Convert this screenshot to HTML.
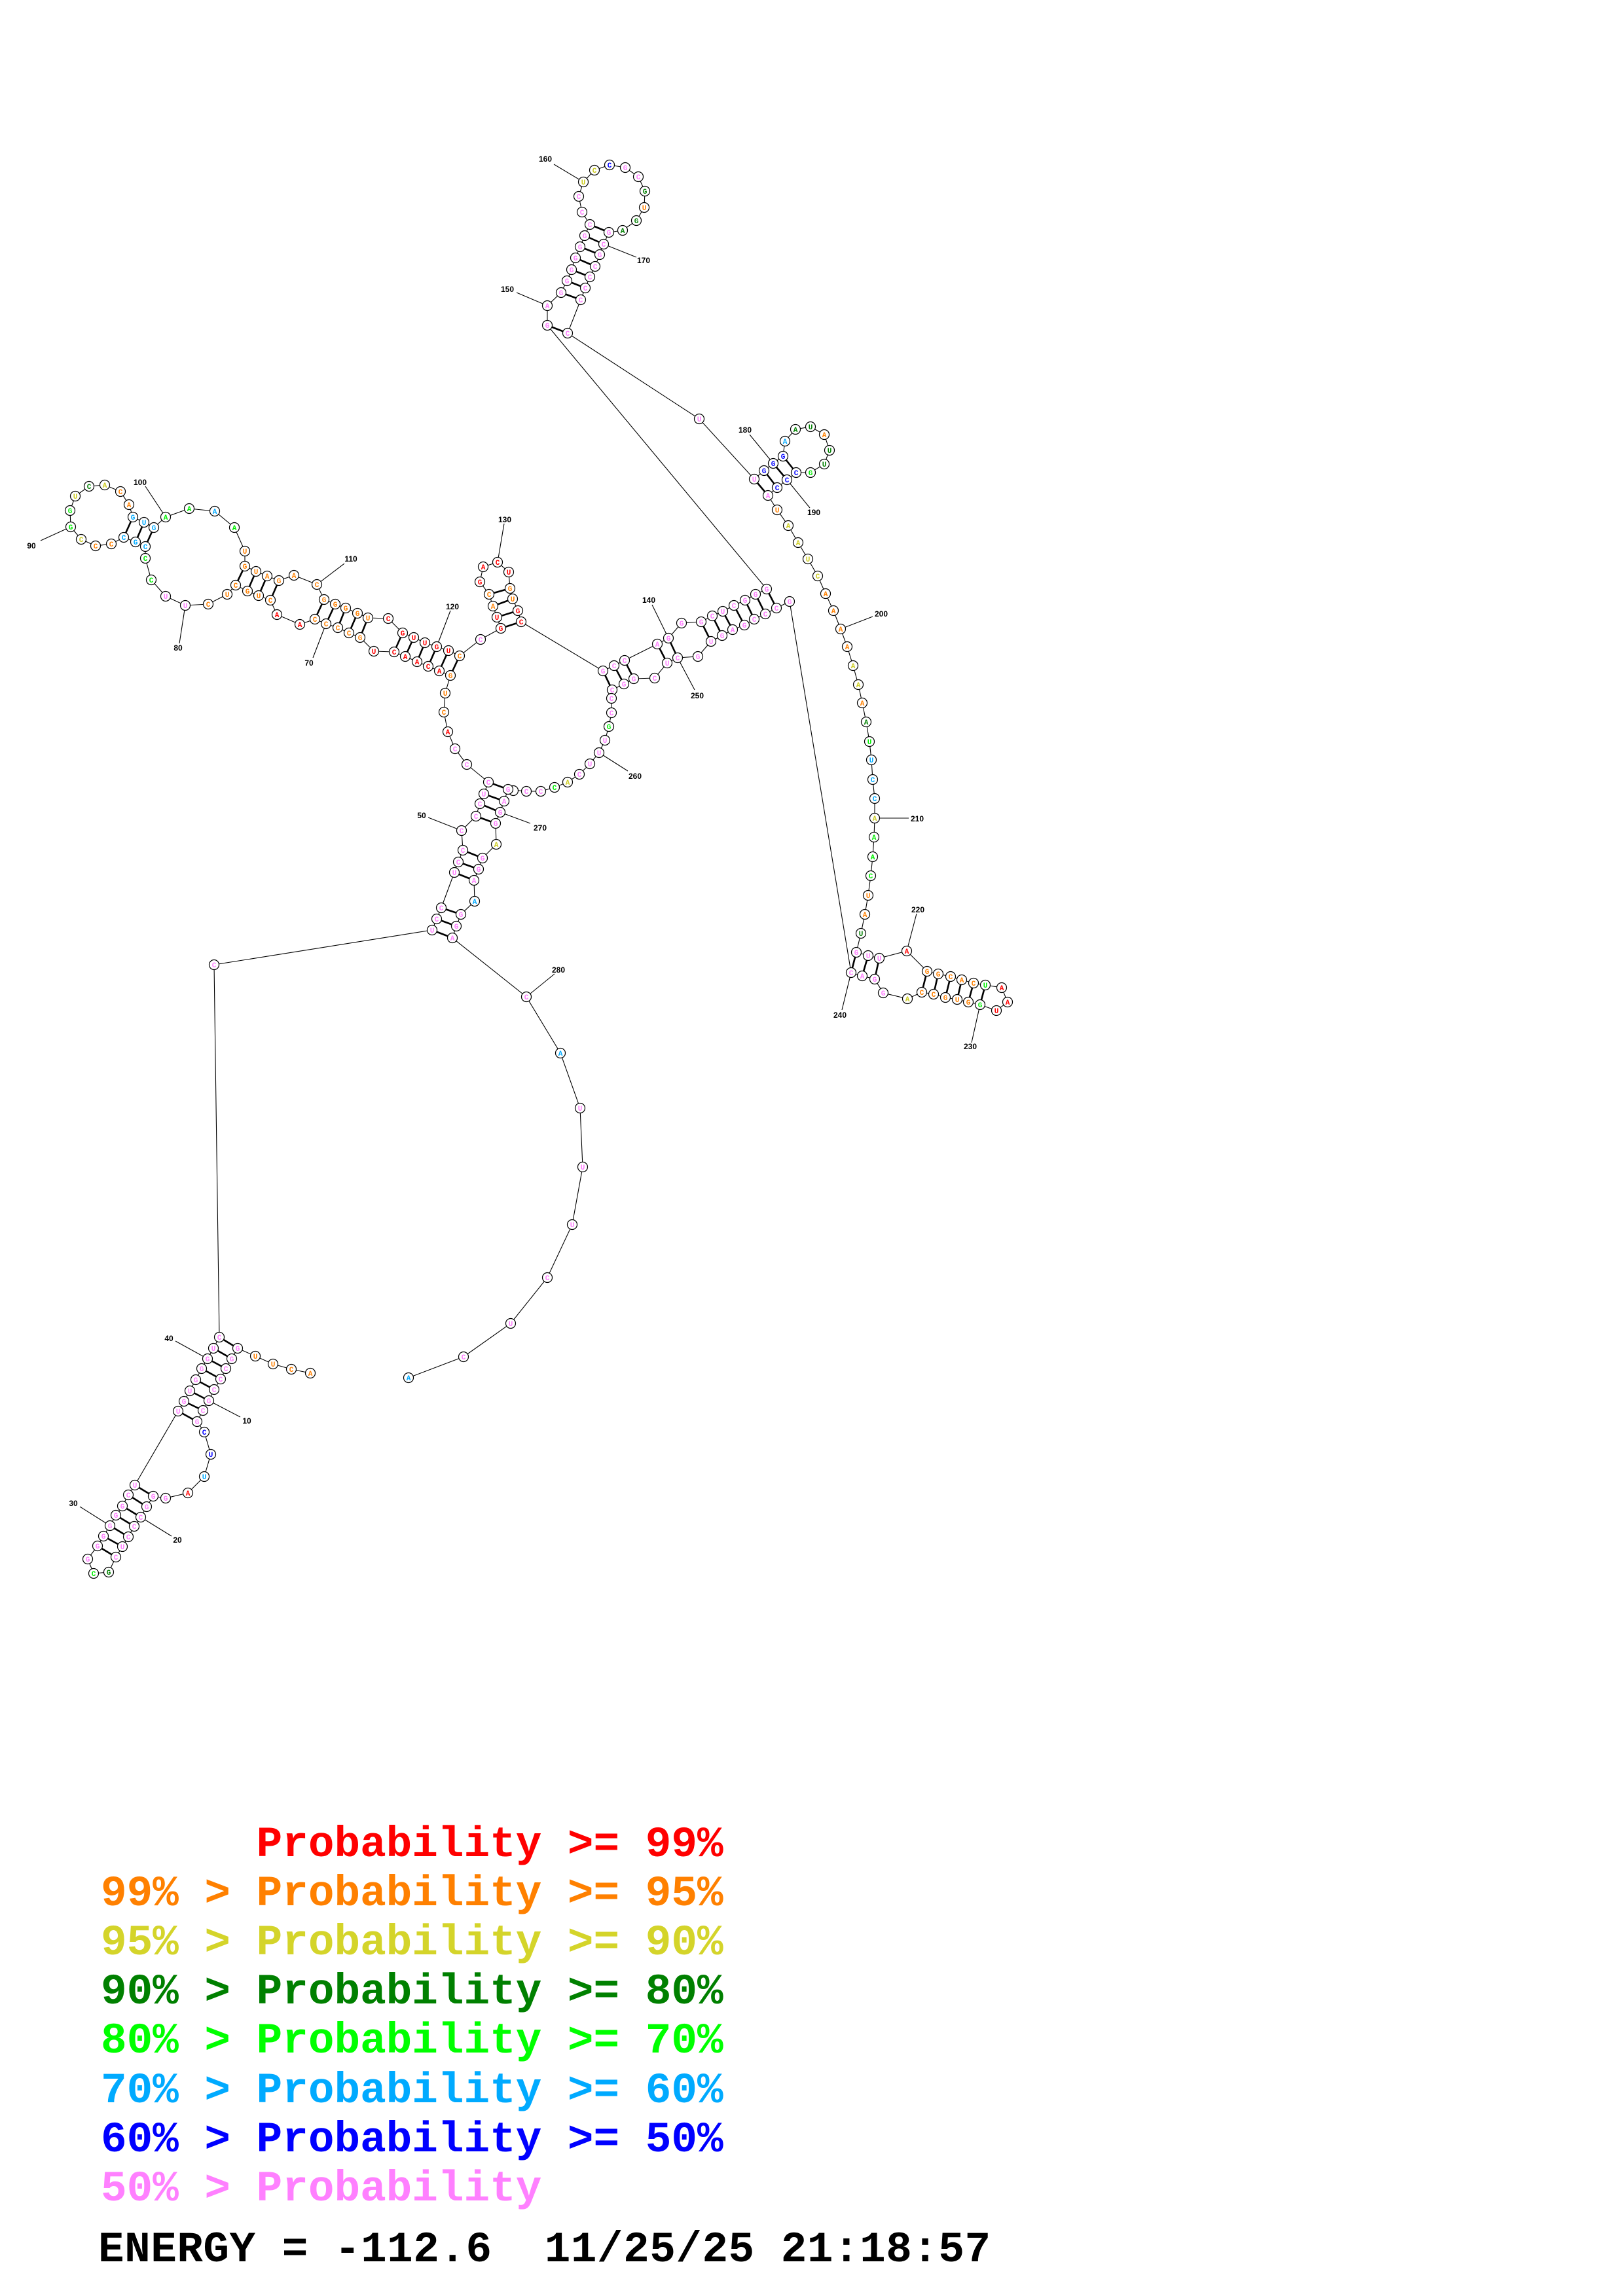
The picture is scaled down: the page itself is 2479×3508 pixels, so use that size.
<!DOCTYPE html>
<html><head><meta charset="utf-8"><style>
html,body{margin:0;padding:0;background:#fff;}
svg{display:block}
.bb{fill:none;stroke:#000;stroke-width:1.1}
.pr line{stroke:#000;stroke-width:2.6}
.ll line{stroke:#000;stroke-width:1.1}
.cc circle{fill:#fff;stroke:#000;stroke-width:1.2}
.nt text{font-family:"Liberation Mono",monospace;font-weight:bold;font-size:11px;text-anchor:middle}
.lb text{font-family:"Liberation Sans",sans-serif;font-weight:bold;font-size:12px;text-anchor:middle}
.p{fill:#ff80ff}.o{fill:#ff8000}.r{fill:#ff0000}.y{fill:#cccc22}.g{fill:#00ee00}.d{fill:#008000}.l{fill:#00aaff}.b{fill:#0000ff}
.lg{font-family:"Liberation Mono",monospace;font-weight:bold;font-size:66px;white-space:pre}
</style></head><body>
<svg width="2479" height="3508" viewBox="0 0 2479 3508" xmlns="http://www.w3.org/2000/svg">
<polyline class="bb" points="474,2098 445,2092 417,2084 390,2072 363,2060 354,2076 345,2091 337,2107 327,2123 319,2140 310,2155 301,2172 312,2188 322,2222 312,2256 287,2281 253,2289 234,2286 224,2302 215,2318 205,2332 196,2348 187,2363 177,2379 166,2402 143,2404 134,2382 149,2362 158,2347 168,2331 177,2315 187,2301 196,2284 206,2269 272,2156 281,2141 290,2125 299,2108 308,2091 317,2076 326,2060 335,2043 327,1474 660,1421 667,1404 674,1387 694,1333 700,1317 707,1299 705,1269 727,1247 733,1228 739,1213 746,1195 713,1168 695,1144 684,1118 678,1088 680,1059 688,1032 671,1025 654,1018 637,1011 619,1003 602,996 571,995 550,974 533,967 516,959 498,953 481,946 458,954 423,939 413,917 395,910 378,903 360,894 347,908 318,923 283,925 253,911 231,886 222,853 222,835 207,828 189,821 170,831 146,834 124,824 108,805 107,780 115,758 136,743 160,741 184,751 197,771 203,790 220,798 235,806 253,790 289,777 328,781 358,806 374,842 374,865 391,873 408,880 426,887 449,879 484,893 495,916 512,923 528,929 546,937 562,944 593,945 615,967 632,974 649,982 667,988 685,994 702,1002 734,977 765,960 759,943 753,926 747,908 733,889 738,866 760,859 777,874 779,899 783,915 791,933 796,950 921,1025 938,1017 954,1009 1004,984 1021,975 1041,952 1071,950 1088,941 1104,934 1121,925 1138,917 1154,908 1171,900 836,497 836,467 857,447 866,429 873,412 879,394 886,377 893,360 901,343 889,324 884,300 891,278 908,260 931,252 955,256 975,270 985,292 984,317 972,337 951,352 930,355 922,373 916,389 909,407 901,423 894,440 887,458 867,509 1068,640 1152,732 1167,719 1181,708 1196,697 1199,674 1215,656 1238,652 1259,664 1267,688 1259,709 1238,722 1216,722 1202,733 1187,745 1173,757 1187,779 1204,803 1219,829 1234,854 1249,880 1261,907 1273,933 1284,961 1294,988 1303,1017 1311,1046 1317,1074 1323,1103 1328,1133 1331,1161 1333,1191 1336,1220 1336,1250 1335,1279 1333,1309 1330,1338 1326,1368 1321,1397 1315,1426 1308,1455 1326,1460 1343,1464 1385,1453 1416,1484 1433,1488 1452,1492 1469,1497 1487,1502 1505,1505 1530,1509 1539,1531 1522,1544 1497,1535 1479,1531 1462,1527 1444,1524 1426,1519 1408,1516 1386,1526 1349,1517 1336,1496 1317,1491 1300,1486 1206,919 1186,929 1169,938 1152,946 1137,955 1119,962 1103,971 1086,980 1066,1003 1035,1005 1019,1013 1000,1036 968,1037 953,1045 935,1054 934,1067 934,1089 930,1110 924,1131 915,1150 901,1167 885,1183 867,1195 847,1203 826,1209 804,1209 784,1207 776,1206 770,1224 764,1241 757,1258 758,1290 737,1311 731,1328 724,1345 725,1377 704,1397 697,1415 691,1433 804,1523 856,1609 886,1693 890,1783 874,1871 836,1952 780,2022 708,2073 624,2105"/>
<g class="pr">
<line x1="363" y1="2060" x2="335" y2="2043"/><line x1="354" y1="2076" x2="326" y2="2060"/><line x1="345" y1="2091" x2="317" y2="2076"/><line x1="337" y1="2107" x2="308" y2="2091"/><line x1="327" y1="2123" x2="299" y2="2108"/><line x1="319" y1="2140" x2="290" y2="2125"/><line x1="310" y1="2155" x2="281" y2="2141"/><line x1="301" y1="2172" x2="272" y2="2156"/>
<line x1="234" y1="2286" x2="206" y2="2269"/><line x1="224" y1="2302" x2="196" y2="2284"/><line x1="215" y1="2318" x2="187" y2="2301"/><line x1="205" y1="2332" x2="177" y2="2315"/><line x1="196" y1="2348" x2="168" y2="2331"/><line x1="187" y1="2363" x2="158" y2="2347"/><line x1="177" y1="2379" x2="149" y2="2362"/>
<line x1="660" y1="1421" x2="691" y2="1433"/><line x1="667" y1="1404" x2="697" y2="1415"/><line x1="674" y1="1387" x2="704" y2="1397"/><line x1="694" y1="1333" x2="724" y2="1345"/><line x1="700" y1="1317" x2="731" y2="1328"/><line x1="707" y1="1299" x2="737" y2="1311"/><line x1="727" y1="1247" x2="757" y2="1258"/><line x1="733" y1="1228" x2="764" y2="1241"/><line x1="739" y1="1213" x2="770" y2="1224"/><line x1="746" y1="1195" x2="776" y2="1206"/>
<line x1="688" y1="1032" x2="702" y2="1002"/><line x1="671" y1="1025" x2="685" y2="994"/><line x1="654" y1="1018" x2="667" y2="988"/><line x1="637" y1="1011" x2="649" y2="982"/><line x1="619" y1="1003" x2="632" y2="974"/><line x1="602" y1="996" x2="615" y2="967"/>
<line x1="550" y1="974" x2="562" y2="944"/><line x1="533" y1="967" x2="546" y2="937"/><line x1="516" y1="959" x2="528" y2="929"/><line x1="498" y1="953" x2="512" y2="923"/><line x1="481" y1="946" x2="495" y2="916"/>
<line x1="413" y1="917" x2="426" y2="887"/><line x1="395" y1="910" x2="408" y2="880"/><line x1="378" y1="903" x2="391" y2="873"/><line x1="360" y1="894" x2="374" y2="865"/>
<line x1="222" y1="835" x2="235" y2="806"/><line x1="207" y1="828" x2="220" y2="798"/><line x1="189" y1="821" x2="203" y2="790"/>
<line x1="765" y1="960" x2="796" y2="950"/><line x1="759" y1="943" x2="791" y2="933"/><line x1="753" y1="926" x2="783" y2="915"/><line x1="747" y1="908" x2="779" y2="899"/>
<line x1="921" y1="1025" x2="935" y2="1054"/><line x1="938" y1="1017" x2="953" y2="1045"/><line x1="954" y1="1009" x2="968" y2="1037"/><line x1="1004" y1="984" x2="1019" y2="1013"/><line x1="1021" y1="975" x2="1035" y2="1005"/><line x1="1071" y1="950" x2="1086" y2="980"/><line x1="1088" y1="941" x2="1103" y2="971"/><line x1="1104" y1="934" x2="1119" y2="962"/><line x1="1121" y1="925" x2="1137" y2="955"/><line x1="1138" y1="917" x2="1152" y2="946"/><line x1="1154" y1="908" x2="1169" y2="938"/><line x1="1171" y1="900" x2="1186" y2="929"/>
<line x1="836" y1="497" x2="867" y2="509"/><line x1="857" y1="447" x2="887" y2="458"/><line x1="866" y1="429" x2="894" y2="440"/><line x1="873" y1="412" x2="901" y2="423"/><line x1="879" y1="394" x2="909" y2="407"/><line x1="886" y1="377" x2="916" y2="389"/><line x1="893" y1="360" x2="922" y2="373"/><line x1="901" y1="343" x2="930" y2="355"/>
<line x1="1152" y1="732" x2="1173" y2="757"/><line x1="1167" y1="719" x2="1187" y2="745"/><line x1="1181" y1="708" x2="1202" y2="733"/><line x1="1196" y1="697" x2="1216" y2="722"/>
<line x1="1308" y1="1455" x2="1300" y2="1486"/><line x1="1326" y1="1460" x2="1317" y2="1491"/><line x1="1343" y1="1464" x2="1336" y2="1496"/><line x1="1416" y1="1484" x2="1408" y2="1516"/><line x1="1433" y1="1488" x2="1426" y2="1519"/><line x1="1452" y1="1492" x2="1444" y2="1524"/><line x1="1469" y1="1497" x2="1462" y2="1527"/><line x1="1487" y1="1502" x2="1479" y2="1531"/><line x1="1505" y1="1505" x2="1497" y2="1535"/>
</g>
<g class="ll">
<line x1="319" y1="2140" x2="367" y2="2165"/><line x1="215" y1="2318" x2="262" y2="2347"/><line x1="168" y1="2331" x2="122" y2="2302"/><line x1="317" y1="2076" x2="268" y2="2049"/><line x1="705" y1="1269" x2="654" y2="1249"/><line x1="498" y1="953" x2="478" y2="1005"/><line x1="283" y1="925" x2="274" y2="983"/><line x1="108" y1="805" x2="62" y2="826"/><line x1="253" y1="790" x2="222" y2="743"/><line x1="484" y1="893" x2="526" y2="861"/><line x1="667" y1="988" x2="688" y2="933"/><line x1="760" y1="859" x2="770" y2="800"/><line x1="1021" y1="975" x2="996" y2="924"/><line x1="836" y1="467" x2="789" y2="447"/><line x1="891" y1="278" x2="846" y2="251"/><line x1="922" y1="373" x2="972" y2="393"/><line x1="1181" y1="708" x2="1145" y2="664"/><line x1="1202" y1="733" x2="1237" y2="776"/><line x1="1284" y1="961" x2="1333" y2="942"/><line x1="1336" y1="1250" x2="1388" y2="1250"/><line x1="1385" y1="1453" x2="1400" y2="1396"/><line x1="1497" y1="1535" x2="1484" y2="1593"/><line x1="1300" y1="1486" x2="1286" y2="1543"/><line x1="1035" y1="1005" x2="1061" y2="1054"/><line x1="915" y1="1150" x2="959" y2="1178"/><line x1="764" y1="1241" x2="810" y2="1258"/><line x1="804" y1="1523" x2="847" y2="1488"/>
</g>
<g class="lb">
<text x="377" y="2175">10</text><text x="271" y="2357">20</text><text x="112" y="2301">30</text><text x="258" y="2049">40</text><text x="644" y="1250">50</text><text x="472" y="1017">70</text><text x="272" y="994">80</text><text x="48" y="838">90</text><text x="214" y="741">100</text><text x="536" y="858">110</text><text x="691" y="931">120</text><text x="771" y="798">130</text><text x="991" y="921">140</text><text x="775" y="446">150</text><text x="833" y="247">160</text><text x="983" y="402">170</text><text x="1138" y="661">180</text><text x="1243" y="787">190</text><text x="1346" y="942">200</text><text x="1401" y="1255">210</text><text x="1402" y="1394">220</text><text x="1482" y="1603">230</text><text x="1283" y="1555">240</text><text x="1065" y="1067">250</text><text x="970" y="1190">260</text><text x="825" y="1269">270</text><text x="853" y="1486">280</text>
</g>
<g class="cc">
<circle cx="474" cy="2098" r="7.5"/><circle cx="445" cy="2092" r="7.5"/><circle cx="417" cy="2084" r="7.5"/><circle cx="390" cy="2072" r="7.5"/><circle cx="363" cy="2060" r="7.5"/><circle cx="354" cy="2076" r="7.5"/><circle cx="345" cy="2091" r="7.5"/><circle cx="337" cy="2107" r="7.5"/><circle cx="327" cy="2123" r="7.5"/><circle cx="319" cy="2140" r="7.5"/><circle cx="310" cy="2155" r="7.5"/><circle cx="301" cy="2172" r="7.5"/><circle cx="312" cy="2188" r="7.5"/><circle cx="322" cy="2222" r="7.5"/><circle cx="312" cy="2256" r="7.5"/><circle cx="287" cy="2281" r="7.5"/><circle cx="253" cy="2289" r="7.5"/><circle cx="234" cy="2286" r="7.5"/><circle cx="224" cy="2302" r="7.5"/><circle cx="215" cy="2318" r="7.5"/><circle cx="205" cy="2332" r="7.5"/><circle cx="196" cy="2348" r="7.5"/><circle cx="187" cy="2363" r="7.5"/><circle cx="177" cy="2379" r="7.5"/><circle cx="166" cy="2402" r="7.5"/><circle cx="143" cy="2404" r="7.5"/><circle cx="134" cy="2382" r="7.5"/><circle cx="149" cy="2362" r="7.5"/><circle cx="158" cy="2347" r="7.5"/><circle cx="168" cy="2331" r="7.5"/><circle cx="177" cy="2315" r="7.5"/><circle cx="187" cy="2301" r="7.5"/><circle cx="196" cy="2284" r="7.5"/><circle cx="206" cy="2269" r="7.5"/><circle cx="272" cy="2156" r="7.5"/><circle cx="281" cy="2141" r="7.5"/><circle cx="290" cy="2125" r="7.5"/><circle cx="299" cy="2108" r="7.5"/><circle cx="308" cy="2091" r="7.5"/><circle cx="317" cy="2076" r="7.5"/><circle cx="326" cy="2060" r="7.5"/><circle cx="335" cy="2043" r="7.5"/><circle cx="327" cy="1474" r="7.5"/><circle cx="660" cy="1421" r="7.5"/><circle cx="667" cy="1404" r="7.5"/><circle cx="674" cy="1387" r="7.5"/><circle cx="694" cy="1333" r="7.5"/><circle cx="700" cy="1317" r="7.5"/><circle cx="707" cy="1299" r="7.5"/><circle cx="705" cy="1269" r="7.5"/><circle cx="727" cy="1247" r="7.5"/><circle cx="733" cy="1228" r="7.5"/><circle cx="739" cy="1213" r="7.5"/><circle cx="746" cy="1195" r="7.5"/><circle cx="713" cy="1168" r="7.5"/><circle cx="695" cy="1144" r="7.5"/><circle cx="684" cy="1118" r="7.5"/><circle cx="678" cy="1088" r="7.5"/><circle cx="680" cy="1059" r="7.5"/><circle cx="688" cy="1032" r="7.5"/><circle cx="671" cy="1025" r="7.5"/><circle cx="654" cy="1018" r="7.5"/><circle cx="637" cy="1011" r="7.5"/><circle cx="619" cy="1003" r="7.5"/><circle cx="602" cy="996" r="7.5"/><circle cx="571" cy="995" r="7.5"/><circle cx="550" cy="974" r="7.5"/><circle cx="533" cy="967" r="7.5"/><circle cx="516" cy="959" r="7.5"/><circle cx="498" cy="953" r="7.5"/><circle cx="481" cy="946" r="7.5"/><circle cx="458" cy="954" r="7.5"/><circle cx="423" cy="939" r="7.5"/><circle cx="413" cy="917" r="7.5"/><circle cx="395" cy="910" r="7.5"/><circle cx="378" cy="903" r="7.5"/><circle cx="360" cy="894" r="7.5"/><circle cx="347" cy="908" r="7.5"/><circle cx="318" cy="923" r="7.5"/><circle cx="283" cy="925" r="7.5"/><circle cx="253" cy="911" r="7.5"/><circle cx="231" cy="886" r="7.5"/><circle cx="222" cy="853" r="7.5"/><circle cx="222" cy="835" r="7.5"/><circle cx="207" cy="828" r="7.5"/><circle cx="189" cy="821" r="7.5"/><circle cx="170" cy="831" r="7.5"/><circle cx="146" cy="834" r="7.5"/><circle cx="124" cy="824" r="7.5"/><circle cx="108" cy="805" r="7.5"/><circle cx="107" cy="780" r="7.5"/><circle cx="115" cy="758" r="7.5"/><circle cx="136" cy="743" r="7.5"/><circle cx="160" cy="741" r="7.5"/><circle cx="184" cy="751" r="7.5"/><circle cx="197" cy="771" r="7.5"/><circle cx="203" cy="790" r="7.5"/><circle cx="220" cy="798" r="7.5"/><circle cx="235" cy="806" r="7.5"/><circle cx="253" cy="790" r="7.5"/><circle cx="289" cy="777" r="7.5"/><circle cx="328" cy="781" r="7.5"/><circle cx="358" cy="806" r="7.5"/><circle cx="374" cy="842" r="7.5"/><circle cx="374" cy="865" r="7.5"/><circle cx="391" cy="873" r="7.5"/><circle cx="408" cy="880" r="7.5"/><circle cx="426" cy="887" r="7.5"/><circle cx="449" cy="879" r="7.5"/><circle cx="484" cy="893" r="7.5"/><circle cx="495" cy="916" r="7.5"/><circle cx="512" cy="923" r="7.5"/><circle cx="528" cy="929" r="7.5"/><circle cx="546" cy="937" r="7.5"/><circle cx="562" cy="944" r="7.5"/><circle cx="593" cy="945" r="7.5"/><circle cx="615" cy="967" r="7.5"/><circle cx="632" cy="974" r="7.5"/><circle cx="649" cy="982" r="7.5"/><circle cx="667" cy="988" r="7.5"/><circle cx="685" cy="994" r="7.5"/><circle cx="702" cy="1002" r="7.5"/><circle cx="734" cy="977" r="7.5"/><circle cx="765" cy="960" r="7.5"/><circle cx="759" cy="943" r="7.5"/><circle cx="753" cy="926" r="7.5"/><circle cx="747" cy="908" r="7.5"/><circle cx="733" cy="889" r="7.5"/><circle cx="738" cy="866" r="7.5"/><circle cx="760" cy="859" r="7.5"/><circle cx="777" cy="874" r="7.5"/><circle cx="779" cy="899" r="7.5"/><circle cx="783" cy="915" r="7.5"/><circle cx="791" cy="933" r="7.5"/><circle cx="796" cy="950" r="7.5"/><circle cx="921" cy="1025" r="7.5"/><circle cx="938" cy="1017" r="7.5"/><circle cx="954" cy="1009" r="7.5"/><circle cx="1004" cy="984" r="7.5"/><circle cx="1021" cy="975" r="7.5"/><circle cx="1041" cy="952" r="7.5"/><circle cx="1071" cy="950" r="7.5"/><circle cx="1088" cy="941" r="7.5"/><circle cx="1104" cy="934" r="7.5"/><circle cx="1121" cy="925" r="7.5"/><circle cx="1138" cy="917" r="7.5"/><circle cx="1154" cy="908" r="7.5"/><circle cx="1171" cy="900" r="7.5"/><circle cx="836" cy="497" r="7.5"/><circle cx="836" cy="467" r="7.5"/><circle cx="857" cy="447" r="7.5"/><circle cx="866" cy="429" r="7.5"/><circle cx="873" cy="412" r="7.5"/><circle cx="879" cy="394" r="7.5"/><circle cx="886" cy="377" r="7.5"/><circle cx="893" cy="360" r="7.5"/><circle cx="901" cy="343" r="7.5"/><circle cx="889" cy="324" r="7.5"/><circle cx="884" cy="300" r="7.5"/><circle cx="891" cy="278" r="7.5"/><circle cx="908" cy="260" r="7.5"/><circle cx="931" cy="252" r="7.5"/><circle cx="955" cy="256" r="7.5"/><circle cx="975" cy="270" r="7.5"/><circle cx="985" cy="292" r="7.5"/><circle cx="984" cy="317" r="7.5"/><circle cx="972" cy="337" r="7.5"/><circle cx="951" cy="352" r="7.5"/><circle cx="930" cy="355" r="7.5"/><circle cx="922" cy="373" r="7.5"/><circle cx="916" cy="389" r="7.5"/><circle cx="909" cy="407" r="7.5"/><circle cx="901" cy="423" r="7.5"/><circle cx="894" cy="440" r="7.5"/><circle cx="887" cy="458" r="7.5"/><circle cx="867" cy="509" r="7.5"/><circle cx="1068" cy="640" r="7.5"/><circle cx="1152" cy="732" r="7.5"/><circle cx="1167" cy="719" r="7.5"/><circle cx="1181" cy="708" r="7.5"/><circle cx="1196" cy="697" r="7.5"/><circle cx="1199" cy="674" r="7.5"/><circle cx="1215" cy="656" r="7.5"/><circle cx="1238" cy="652" r="7.5"/><circle cx="1259" cy="664" r="7.5"/><circle cx="1267" cy="688" r="7.5"/><circle cx="1259" cy="709" r="7.5"/><circle cx="1238" cy="722" r="7.5"/><circle cx="1216" cy="722" r="7.5"/><circle cx="1202" cy="733" r="7.5"/><circle cx="1187" cy="745" r="7.5"/><circle cx="1173" cy="757" r="7.5"/><circle cx="1187" cy="779" r="7.5"/><circle cx="1204" cy="803" r="7.5"/><circle cx="1219" cy="829" r="7.5"/><circle cx="1234" cy="854" r="7.5"/><circle cx="1249" cy="880" r="7.5"/><circle cx="1261" cy="907" r="7.5"/><circle cx="1273" cy="933" r="7.5"/><circle cx="1284" cy="961" r="7.5"/><circle cx="1294" cy="988" r="7.5"/><circle cx="1303" cy="1017" r="7.5"/><circle cx="1311" cy="1046" r="7.5"/><circle cx="1317" cy="1074" r="7.5"/><circle cx="1323" cy="1103" r="7.5"/><circle cx="1328" cy="1133" r="7.5"/><circle cx="1331" cy="1161" r="7.5"/><circle cx="1333" cy="1191" r="7.5"/><circle cx="1336" cy="1220" r="7.5"/><circle cx="1336" cy="1250" r="7.5"/><circle cx="1335" cy="1279" r="7.5"/><circle cx="1333" cy="1309" r="7.5"/><circle cx="1330" cy="1338" r="7.5"/><circle cx="1326" cy="1368" r="7.5"/><circle cx="1321" cy="1397" r="7.5"/><circle cx="1315" cy="1426" r="7.5"/><circle cx="1308" cy="1455" r="7.5"/><circle cx="1326" cy="1460" r="7.5"/><circle cx="1343" cy="1464" r="7.5"/><circle cx="1385" cy="1453" r="7.5"/><circle cx="1416" cy="1484" r="7.5"/><circle cx="1433" cy="1488" r="7.5"/><circle cx="1452" cy="1492" r="7.5"/><circle cx="1469" cy="1497" r="7.5"/><circle cx="1487" cy="1502" r="7.5"/><circle cx="1505" cy="1505" r="7.5"/><circle cx="1530" cy="1509" r="7.5"/><circle cx="1539" cy="1531" r="7.5"/><circle cx="1522" cy="1544" r="7.5"/><circle cx="1497" cy="1535" r="7.5"/><circle cx="1479" cy="1531" r="7.5"/><circle cx="1462" cy="1527" r="7.5"/><circle cx="1444" cy="1524" r="7.5"/><circle cx="1426" cy="1519" r="7.5"/><circle cx="1408" cy="1516" r="7.5"/><circle cx="1386" cy="1526" r="7.5"/><circle cx="1349" cy="1517" r="7.5"/><circle cx="1336" cy="1496" r="7.5"/><circle cx="1317" cy="1491" r="7.5"/><circle cx="1300" cy="1486" r="7.5"/><circle cx="1206" cy="919" r="7.5"/><circle cx="1186" cy="929" r="7.5"/><circle cx="1169" cy="938" r="7.5"/><circle cx="1152" cy="946" r="7.5"/><circle cx="1137" cy="955" r="7.5"/><circle cx="1119" cy="962" r="7.5"/><circle cx="1103" cy="971" r="7.5"/><circle cx="1086" cy="980" r="7.5"/><circle cx="1066" cy="1003" r="7.5"/><circle cx="1035" cy="1005" r="7.5"/><circle cx="1019" cy="1013" r="7.5"/><circle cx="1000" cy="1036" r="7.5"/><circle cx="968" cy="1037" r="7.5"/><circle cx="953" cy="1045" r="7.5"/><circle cx="935" cy="1054" r="7.5"/><circle cx="934" cy="1067" r="7.5"/><circle cx="934" cy="1089" r="7.5"/><circle cx="930" cy="1110" r="7.5"/><circle cx="924" cy="1131" r="7.5"/><circle cx="915" cy="1150" r="7.5"/><circle cx="901" cy="1167" r="7.5"/><circle cx="885" cy="1183" r="7.5"/><circle cx="867" cy="1195" r="7.5"/><circle cx="847" cy="1203" r="7.5"/><circle cx="826" cy="1209" r="7.5"/><circle cx="804" cy="1209" r="7.5"/><circle cx="784" cy="1208" r="7.5"/><circle cx="776" cy="1206" r="7.5"/><circle cx="770" cy="1224" r="7.5"/><circle cx="764" cy="1241" r="7.5"/><circle cx="757" cy="1258" r="7.5"/><circle cx="758" cy="1290" r="7.5"/><circle cx="737" cy="1311" r="7.5"/><circle cx="731" cy="1328" r="7.5"/><circle cx="724" cy="1345" r="7.5"/><circle cx="725" cy="1377" r="7.5"/><circle cx="704" cy="1397" r="7.5"/><circle cx="697" cy="1415" r="7.5"/><circle cx="691" cy="1433" r="7.5"/><circle cx="804" cy="1523" r="7.5"/><circle cx="856" cy="1609" r="7.5"/><circle cx="886" cy="1693" r="7.5"/><circle cx="890" cy="1783" r="7.5"/><circle cx="874" cy="1871" r="7.5"/><circle cx="836" cy="1952" r="7.5"/><circle cx="780" cy="2022" r="7.5"/><circle cx="708" cy="2073" r="7.5"/><circle cx="624" cy="2105" r="7.5"/>
</g>
<g class="nt">
<text x="474" y="2102" class="o">A</text><text x="445" y="2096" class="o">C</text><text x="417" y="2088" class="o">U</text><text x="390" y="2076" class="o">U</text><text x="363" y="2064" class="p">G</text><text x="354" y="2080" class="p">G</text><text x="345" y="2095" class="p">C</text><text x="337" y="2111" class="p">C</text><text x="327" y="2127" class="p">C</text><text x="319" y="2144" class="p">G</text><text x="310" y="2159" class="p">C</text><text x="301" y="2176" class="p">G</text><text x="312" y="2192" class="b">C</text><text x="322" y="2226" class="b">U</text><text x="312" y="2260" class="l">U</text><text x="287" y="2285" class="r">A</text><text x="253" y="2293" class="p">G</text><text x="234" y="2290" class="p">G</text><text x="224" y="2306" class="p">G</text><text x="215" y="2322" class="p">C</text><text x="205" y="2336" class="p">C</text><text x="196" y="2352" class="p">C</text><text x="187" y="2367" class="p">U</text><text x="177" y="2383" class="p">C</text><text x="166" y="2406" class="d">G</text><text x="143" y="2408" class="g">C</text><text x="134" y="2386" class="p">G</text><text x="149" y="2366" class="p">G</text><text x="158" y="2351" class="p">G</text><text x="168" y="2335" class="p">G</text><text x="177" y="2319" class="p">G</text><text x="187" y="2305" class="p">G</text><text x="196" y="2288" class="p">C</text><text x="206" y="2273" class="p">U</text><text x="272" y="2160" class="p">U</text><text x="281" y="2145" class="p">G</text><text x="290" y="2129" class="p">U</text><text x="299" y="2112" class="p">G</text><text x="308" y="2095" class="p">G</text><text x="317" y="2080" class="p">G</text><text x="326" y="2064" class="p">U</text><text x="335" y="2047" class="p">C</text><text x="327" y="1478" class="p">C</text><text x="660" y="1425" class="p">U</text><text x="667" y="1408" class="p">C</text><text x="674" y="1391" class="p">C</text><text x="694" y="1337" class="p">U</text><text x="700" y="1321" class="p">C</text><text x="707" y="1303" class="p">C</text><text x="705" y="1273" class="p">C</text><text x="727" y="1251" class="p">C</text><text x="733" y="1232" class="p">C</text><text x="739" y="1217" class="p">U</text><text x="746" y="1199" class="p">C</text><text x="713" y="1172" class="p">C</text><text x="695" y="1148" class="p">C</text><text x="684" y="1122" class="r">A</text><text x="678" y="1092" class="o">C</text><text x="680" y="1063" class="o">U</text><text x="688" y="1036" class="o">G</text><text x="671" y="1029" class="r">A</text><text x="654" y="1022" class="r">C</text><text x="637" y="1015" class="r">A</text><text x="619" y="1007" class="r">A</text><text x="602" y="1000" class="r">C</text><text x="571" y="999" class="r">U</text><text x="550" y="978" class="o">G</text><text x="533" y="971" class="o">C</text><text x="516" y="963" class="o">C</text><text x="498" y="957" class="o">C</text><text x="481" y="950" class="o">C</text><text x="458" y="958" class="r">A</text><text x="423" y="943" class="r">A</text><text x="413" y="921" class="o">C</text><text x="395" y="914" class="o">U</text><text x="378" y="907" class="o">G</text><text x="360" y="898" class="o">C</text><text x="347" y="912" class="o">U</text><text x="318" y="927" class="o">C</text><text x="283" y="929" class="p">U</text><text x="253" y="915" class="p">U</text><text x="231" y="890" class="g">C</text><text x="222" y="857" class="g">C</text><text x="222" y="839" class="l">C</text><text x="207" y="832" class="l">G</text><text x="189" y="825" class="l">C</text><text x="170" y="835" class="o">C</text><text x="146" y="838" class="o">C</text><text x="124" y="828" class="y">C</text><text x="108" y="809" class="g">G</text><text x="107" y="784" class="g">G</text><text x="115" y="762" class="y">U</text><text x="136" y="747" class="d">C</text><text x="160" y="745" class="y">A</text><text x="184" y="755" class="o">C</text><text x="197" y="775" class="o">A</text><text x="203" y="794" class="l">G</text><text x="220" y="802" class="l">U</text><text x="235" y="810" class="l">G</text><text x="253" y="794" class="g">A</text><text x="289" y="781" class="g">A</text><text x="328" y="785" class="l">A</text><text x="358" y="810" class="g">A</text><text x="374" y="846" class="o">U</text><text x="374" y="869" class="o">G</text><text x="391" y="877" class="o">U</text><text x="408" y="884" class="o">A</text><text x="426" y="891" class="o">G</text><text x="449" y="883" class="o">A</text><text x="484" y="897" class="o">C</text><text x="495" y="920" class="o">G</text><text x="512" y="927" class="o">G</text><text x="528" y="933" class="o">G</text><text x="546" y="941" class="o">G</text><text x="562" y="948" class="o">U</text><text x="593" y="949" class="r">C</text><text x="615" y="971" class="r">G</text><text x="632" y="978" class="r">U</text><text x="649" y="986" class="r">U</text><text x="667" y="992" class="r">G</text><text x="685" y="998" class="r">U</text><text x="702" y="1006" class="o">C</text><text x="734" y="981" class="p">C</text><text x="765" y="964" class="r">G</text><text x="759" y="947" class="r">U</text><text x="753" y="930" class="o">A</text><text x="747" y="912" class="o">C</text><text x="733" y="893" class="r">G</text><text x="738" y="870" class="r">A</text><text x="760" y="863" class="r">C</text><text x="777" y="878" class="r">U</text><text x="779" y="903" class="o">G</text><text x="783" y="919" class="o">U</text><text x="791" y="937" class="r">G</text><text x="796" y="954" class="r">C</text><text x="921" y="1029" class="p">G</text><text x="938" y="1021" class="p">C</text><text x="954" y="1013" class="p">C</text><text x="1004" y="988" class="p">A</text><text x="1021" y="979" class="p">G</text><text x="1041" y="956" class="p">G</text><text x="1071" y="954" class="p">G</text><text x="1088" y="945" class="p">C</text><text x="1104" y="938" class="p">U</text><text x="1121" y="929" class="p">C</text><text x="1138" y="921" class="p">G</text><text x="1154" y="912" class="p">G</text><text x="1171" y="904" class="p">G</text><text x="836" y="501" class="p">G</text><text x="836" y="471" class="p">A</text><text x="857" y="451" class="p">G</text><text x="866" y="433" class="p">G</text><text x="873" y="416" class="p">G</text><text x="879" y="398" class="p">G</text><text x="886" y="381" class="p">G</text><text x="893" y="364" class="p">G</text><text x="901" y="347" class="p">C</text><text x="889" y="328" class="p">C</text><text x="884" y="304" class="p">C</text><text x="891" y="282" class="y">U</text><text x="908" y="264" class="y">C</text><text x="931" y="256" class="b">C</text><text x="955" y="260" class="p">G</text><text x="975" y="274" class="p">C</text><text x="985" y="296" class="d">G</text><text x="984" y="321" class="o">U</text><text x="972" y="341" class="d">G</text><text x="951" y="356" class="d">A</text><text x="930" y="359" class="p">G</text><text x="922" y="377" class="p">C</text><text x="916" y="393" class="p">G</text><text x="909" y="411" class="p">C</text><text x="901" y="427" class="p">C</text><text x="894" y="444" class="p">C</text><text x="887" y="462" class="p">C</text><text x="867" y="513" class="p">C</text><text x="1068" y="644" class="p">U</text><text x="1152" y="736" class="p">U</text><text x="1167" y="723" class="b">G</text><text x="1181" y="712" class="b">G</text><text x="1196" y="701" class="b">G</text><text x="1199" y="678" class="l">A</text><text x="1215" y="660" class="d">A</text><text x="1238" y="656" class="d">U</text><text x="1259" y="668" class="o">A</text><text x="1267" y="692" class="d">U</text><text x="1259" y="713" class="d">U</text><text x="1238" y="726" class="g">G</text><text x="1216" y="726" class="b">C</text><text x="1202" y="737" class="b">C</text><text x="1187" y="749" class="b">C</text><text x="1173" y="761" class="p">A</text><text x="1187" y="783" class="o">U</text><text x="1204" y="807" class="y">A</text><text x="1219" y="833" class="y">A</text><text x="1234" y="858" class="y">U</text><text x="1249" y="884" class="y">C</text><text x="1261" y="911" class="o">A</text><text x="1273" y="937" class="o">A</text><text x="1284" y="965" class="o">A</text><text x="1294" y="992" class="o">A</text><text x="1303" y="1021" class="y">A</text><text x="1311" y="1050" class="y">A</text><text x="1317" y="1078" class="o">A</text><text x="1323" y="1107" class="d">A</text><text x="1328" y="1137" class="g">U</text><text x="1331" y="1165" class="l">U</text><text x="1333" y="1195" class="l">C</text><text x="1336" y="1224" class="l">C</text><text x="1336" y="1254" class="y">A</text><text x="1335" y="1283" class="g">A</text><text x="1333" y="1313" class="g">A</text><text x="1330" y="1342" class="g">C</text><text x="1326" y="1372" class="o">U</text><text x="1321" y="1401" class="o">A</text><text x="1315" y="1430" class="d">U</text><text x="1308" y="1459" class="p">G</text><text x="1326" y="1464" class="p">U</text><text x="1343" y="1468" class="p">U</text><text x="1385" y="1457" class="r">A</text><text x="1416" y="1488" class="o">G</text><text x="1433" y="1492" class="o">G</text><text x="1452" y="1496" class="o">C</text><text x="1469" y="1501" class="o">A</text><text x="1487" y="1506" class="o">C</text><text x="1505" y="1509" class="g">U</text><text x="1530" y="1513" class="r">A</text><text x="1539" y="1535" class="r">A</text><text x="1522" y="1548" class="r">U</text><text x="1497" y="1539" class="g">G</text><text x="1479" y="1535" class="o">G</text><text x="1462" y="1531" class="o">U</text><text x="1444" y="1528" class="o">G</text><text x="1426" y="1523" class="o">C</text><text x="1408" y="1520" class="o">C</text><text x="1386" y="1530" class="y">A</text><text x="1349" y="1521" class="p">G</text><text x="1336" y="1500" class="p">G</text><text x="1317" y="1495" class="p">A</text><text x="1300" y="1490" class="p">C</text><text x="1206" y="923" class="p">G</text><text x="1186" y="933" class="p">C</text><text x="1169" y="942" class="p">C</text><text x="1152" y="950" class="p">C</text><text x="1137" y="959" class="p">G</text><text x="1119" y="966" class="p">A</text><text x="1103" y="975" class="p">G</text><text x="1086" y="984" class="p">U</text><text x="1066" y="1007" class="p">G</text><text x="1035" y="1009" class="p">C</text><text x="1019" y="1017" class="p">U</text><text x="1000" y="1040" class="p">C</text><text x="968" y="1041" class="p">G</text><text x="953" y="1049" class="p">G</text><text x="935" y="1058" class="p">C</text><text x="934" y="1071" class="p">C</text><text x="934" y="1093" class="p">C</text><text x="930" y="1114" class="g">G</text><text x="924" y="1135" class="p">U</text><text x="915" y="1154" class="p">U</text><text x="901" y="1171" class="p">U</text><text x="885" y="1187" class="p">C</text><text x="867" y="1199" class="y">A</text><text x="847" y="1207" class="g">C</text><text x="826" y="1213" class="p">C</text><text x="804" y="1213" class="p">C</text><text x="776" y="1210" class="p">G</text><text x="770" y="1228" class="p">A</text><text x="764" y="1245" class="p">G</text><text x="757" y="1262" class="p">G</text><text x="758" y="1294" class="y">A</text><text x="737" y="1315" class="p">G</text><text x="731" y="1332" class="p">G</text><text x="724" y="1349" class="p">A</text><text x="725" y="1381" class="l">A</text><text x="704" y="1401" class="p">G</text><text x="697" y="1419" class="p">G</text><text x="691" y="1437" class="p">A</text><text x="804" y="1527" class="p">C</text><text x="856" y="1613" class="l">A</text><text x="886" y="1697" class="p">U</text><text x="890" y="1787" class="p">U</text><text x="874" y="1875" class="p">U</text><text x="836" y="1956" class="p">C</text><text x="780" y="2026" class="p">U</text><text x="708" y="2077" class="p">C</text><text x="624" y="2109" class="l">A</text>
</g>
<text class="lg" x="154" y="2836" fill="#ff0000" xml:space="preserve">      Probability &gt;= 99%</text>
<text class="lg" x="154" y="2911" fill="#ff8000">99% &gt; Probability &gt;= 95%</text>
<text class="lg" x="154" y="2986" fill="#d4d42a">95% &gt; Probability &gt;= 90%</text>
<text class="lg" x="154" y="3061" fill="#008000">90% &gt; Probability &gt;= 80%</text>
<text class="lg" x="154" y="3136" fill="#00ff00">80% &gt; Probability &gt;= 70%</text>
<text class="lg" x="154" y="3212" fill="#00aaff">70% &gt; Probability &gt;= 60%</text>
<text class="lg" x="154" y="3287" fill="#0000ff">60% &gt; Probability &gt;= 50%</text>
<text class="lg" x="154" y="3362" fill="#ff80ff">50% &gt; Probability</text>
<text class="lg" x="150" y="3455" fill="#000" style="letter-spacing:0.5px" xml:space="preserve">ENERGY = -112.6  11/25/25 21:18:57</text>
</svg>
</body></html>
